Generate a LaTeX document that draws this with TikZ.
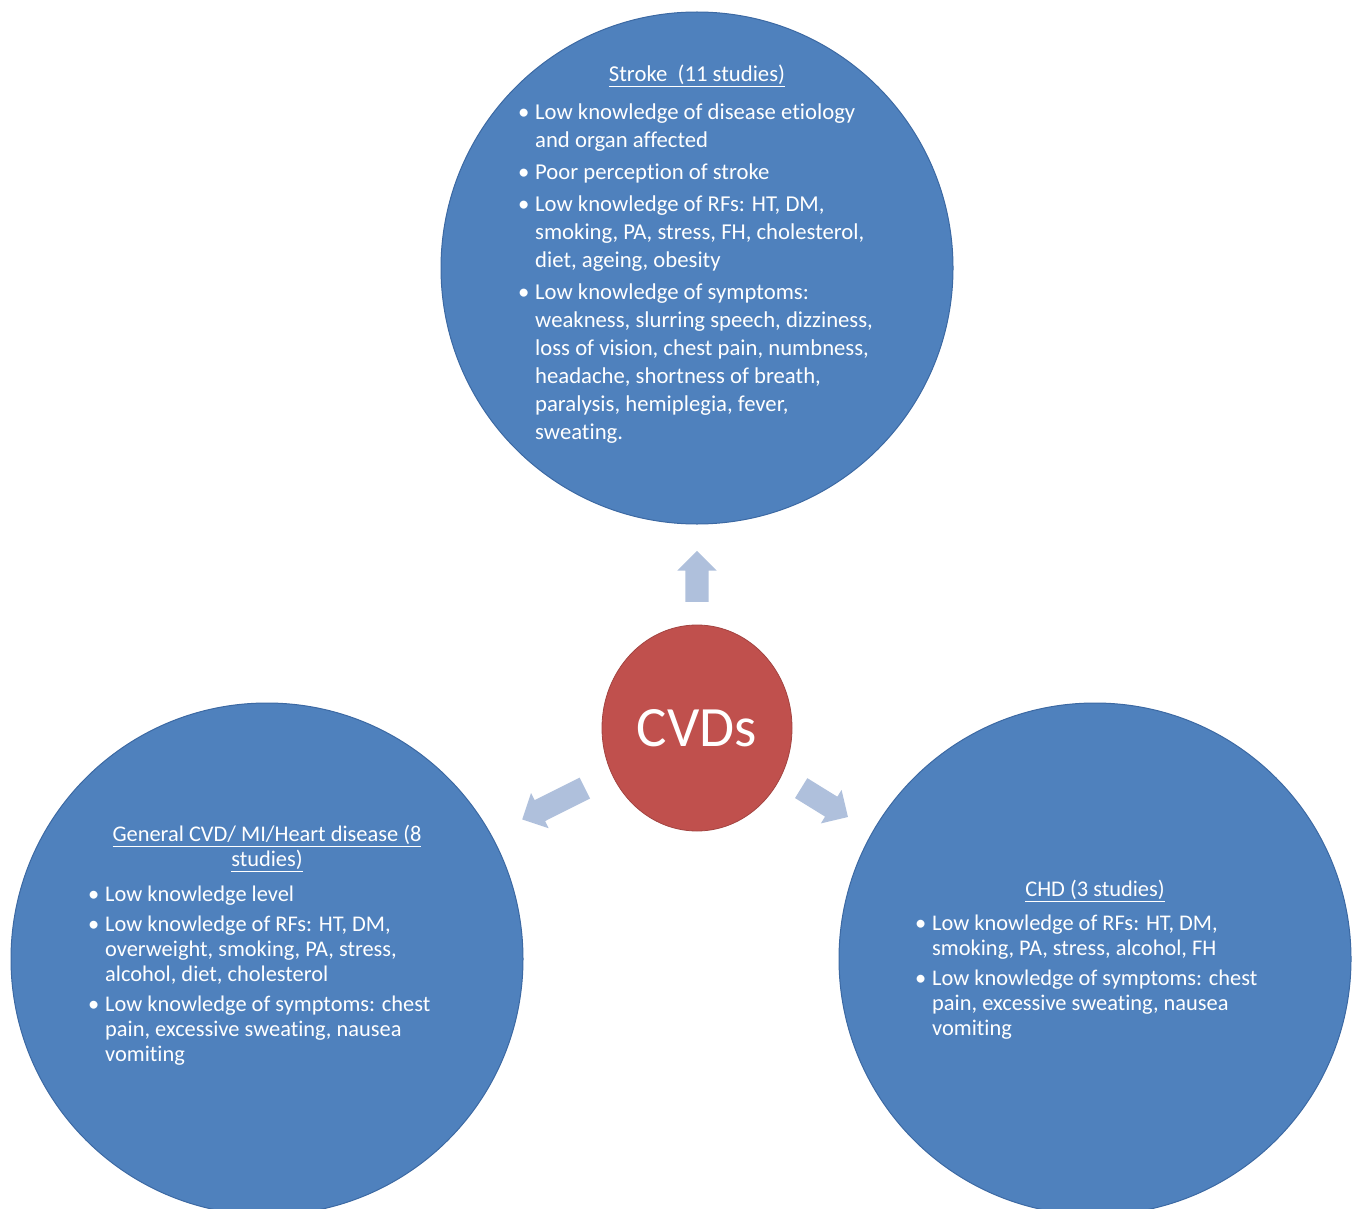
\documentclass[tikz,border=0pt]{standalone}
\usepackage{fontspec}
\setmainfont{Carlito}[Ligatures=NoCommon]
\usepackage{tikz}
\usetikzlibrary{positioning,shapes.geometric,shapes.arrows}
\definecolor{discblue}{HTML}{4F81BD}
\definecolor{discedge}{HTML}{3C69A3}
\definecolor{hubred}{HTML}{C0504D}
\definecolor{arrowtint}{HTML}{AFC0DC}
\tikzset{
  disc/.style={circle,draw=discedge,line width=1pt,fill=discblue,minimum size=512pt,inner sep=0pt},
  hub/.style={ellipse,draw=hubred!85!black,line width=0.8pt,fill=hubred,minimum width=190pt,
    minimum height=206pt,inner sep=0pt,text=white,font=\fontsize{57}{62}\selectfont},
  pointer/.style={single arrow,fill=arrowtint,draw=none,inner xsep=0pt,inner ysep=11.5pt,
    minimum width=39pt,single arrow head extend=8pt,anchor=tail},
  dtitle/.style={text=white,inner sep=0pt,anchor=base},
  dbody/.style={text=white,inner sep=0pt,anchor=north west},
  bigtxt/.style={font=\fontsize{22.7}{28}\selectfont},
  smalltxt/.style={font=\fontsize{22.4}{25}\selectfont},
}
\newcommand{\bdot}{\makebox[17pt][l]{\textbullet}}

\begin{document}
\begin{tikzpicture}[x=1pt,y=-1pt]
  \useasboundingbox (0,0) rectangle (1354,1209);
  \clip (0,0) rectangle (1354,1209);
  % the three outcome discs
  \node[disc] (stroke) at (697,268) {};
  \node[disc] (general) at (267,959) {};
  \node[disc] (chd) at (1095,959) {};
  \node[hub] (cvd) at (697,728) {CVDs};
  % block arrows out of the hub
  \node[pointer,rotate=90,minimum height=51pt] (up) at (697,602) {};
  \node[pointer,rotate=206.6,minimum height=70pt] (left) at (585,788) {};
  \node[pointer,rotate=-31.7,minimum height=55pt] (right) at (801,788) {};
  % stroke
  \node[dtitle,bigtxt] (stroke-t) at (697,82) {\underline{Stroke\ \ (11 studies)}};
  \node[dbody,bigtxt] (stroke-b) at (518,99.4) {\begin{tabular}{@{}l@{}l@{}}
    \bdot & Low knowledge of disease etiology\\
          & and organ affected\\[4pt]
    \bdot & Poor perception of stroke\\[4pt]
    \bdot & Low knowledge of RFs: HT, DM,\\
          & smoking, PA, stress, FH, cholesterol,\\
          & diet, ageing, obesity\\[4pt]
    \bdot & Low knowledge of symptoms:\\
          & weakness, slurring speech, dizziness,\\
          & loss of vision, chest pain, numbness,\\
          & headache, shortness of breath,\\
          & paralysis, hemiplegia, fever,\\
          & sweating.
  \end{tabular}};
  % general CVD
  \node[dtitle,smalltxt] (general-t) at (267,841.5) {\begin{tabular}[t]{@{}c@{}}
    \underline{General CVD/ MI/Heart disease (8}\\
    \underline{studies)}
  \end{tabular}};
  \node[dbody,smalltxt] (general-b) at (88,883.5) {\begin{tabular}{@{}l@{}l@{}}
    \bdot & Low knowledge level\\[5pt]
    \bdot & Low knowledge of RFs: HT, DM,\\
          & overweight, smoking, PA, stress,\\
          & alcohol, diet, cholesterol\\[5pt]
    \bdot & Low knowledge of symptoms: chest\\
          & pain, excessive sweating, nausea\\
          & vomiting
  \end{tabular}};
  % CHD
  \node[dtitle,smalltxt] (chd-t) at (1095,896.5) {\underline{CHD (3 studies)}};
  \node[dbody,smalltxt] (chd-b) at (915,912.5) {\begin{tabular}{@{}l@{}l@{}}
    \bdot & Low knowledge of RFs: HT, DM,\\
          & smoking, PA, stress, alcohol, FH\\[5pt]
    \bdot & Low knowledge of symptoms: chest\\
          & pain, excessive sweating, nausea\\
          & vomiting
  \end{tabular}};
\end{tikzpicture}
\end{document}
